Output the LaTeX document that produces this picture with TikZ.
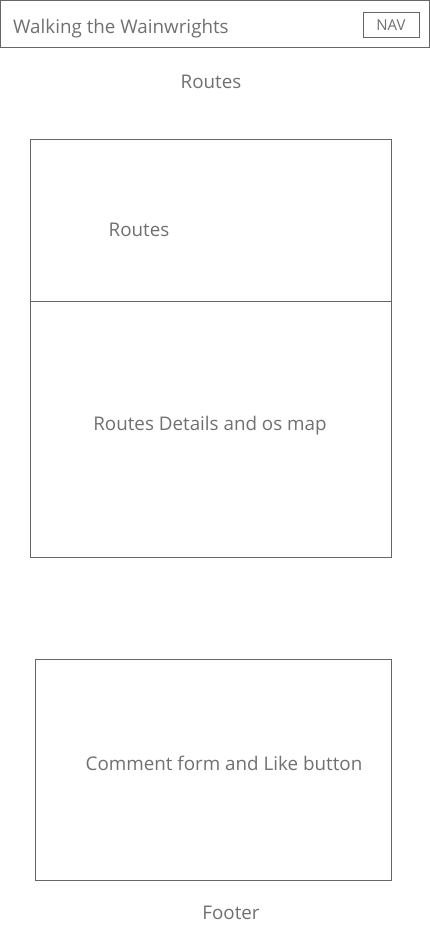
\documentclass[tikz,border=0pt]{standalone}
\usepackage{fontspec}
\setmainfont{Open Sans}
\usepackage{tikz}
\usetikzlibrary{positioning}

\definecolor{wireline}{HTML}{666666}
\definecolor{wiretext}{HTML}{707070}

\begin{document}
\begin{tikzpicture}[%
    x=1pt,
    y=-1pt,
    frame/.style={draw=wireline, line width=1pt},
    lbl/.style={text=wiretext, font={\fontsize{18.8}{22}\selectfont}, inner sep=0pt, anchor=base},
    small/.style={text=wiretext, font={\fontsize{15}{18}\selectfont}, inner sep=0pt, anchor=base}
    ]

    \useasboundingbox (0,0) rectangle (430,932);

    % header bar
    \draw[frame] (0.5,0.5) rectangle (429.5,47);
        \node[lbl, anchor=base west] (title) at (13,33) {Walking the Wainwrights};
        \draw[frame] (363,12) rectangle (419,37);
        \node[small] (nav) at (391,30) {NAV};

    \node[lbl] (heading) at (211,88) {Routes};

    % route boxes
    \draw[frame] (30.5,139.5) rectangle (391,301);
        \node[lbl] (routes) at (139,236) {Routes};
    \draw[frame] (30.5,301) rectangle (391,557);
        \node[lbl] (details) at (210,430) {Routes Details and os map};

    % comments
    \draw[frame] (35.5,659.5) rectangle (391,880);
        \node[lbl] (comment) at (224,770) {Comment form and Like button};

    \node[lbl] (footer) at (231,919) {Footer};

\end{tikzpicture}
\end{document}
